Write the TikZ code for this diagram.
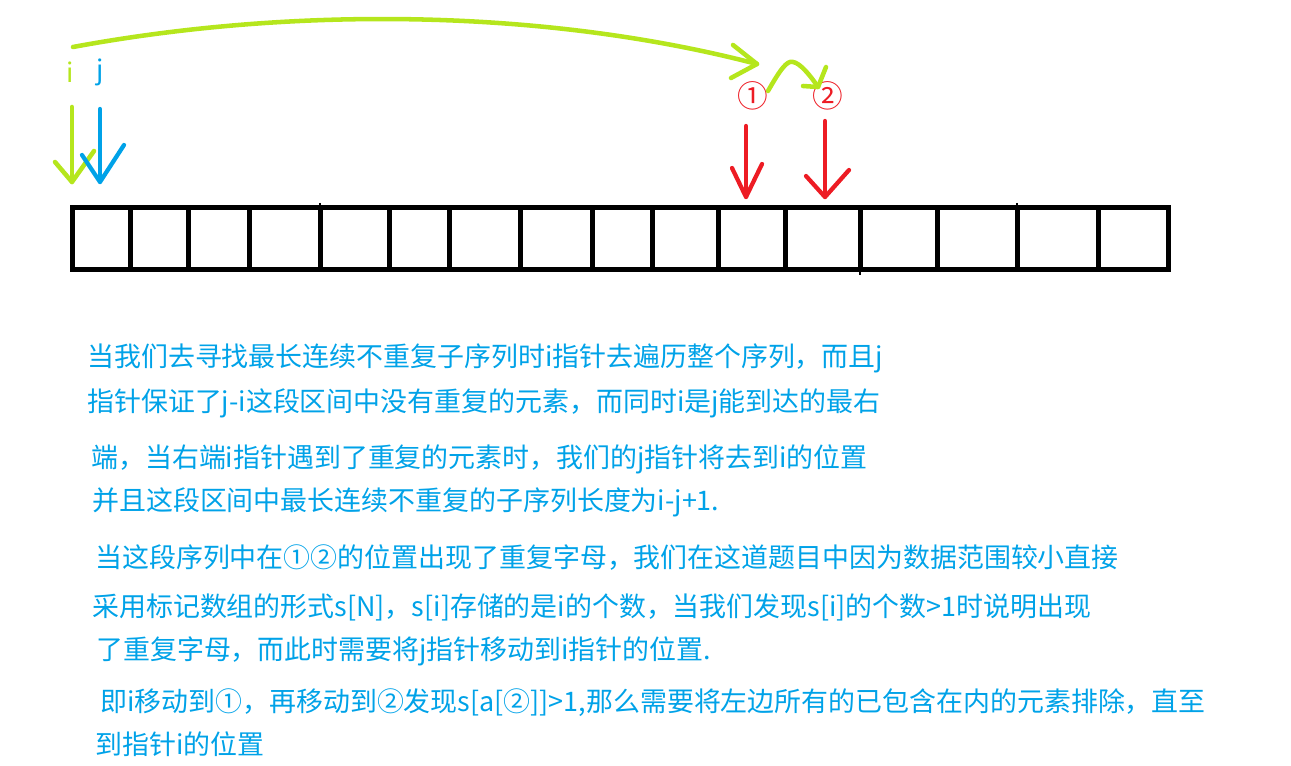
\documentclass[tikz,border=0pt]{standalone}
\usepackage{fontspec}
\setmainfont{Noto Sans CJK SC}
\definecolor{pblue}{RGB}{0,162,232}
\definecolor{pgreen}{RGB}{181,230,29}
\definecolor{pred}{RGB}{237,28,36}
\begin{document}
\begin{tikzpicture}[x=0.75pt,y=-0.75pt,line cap=round,line join=round,
  txt/.style={anchor=base west,inner sep=0pt,text=pblue,font=\fontsize{20.2pt}{24pt}\selectfont},
  lbl/.style={inner sep=0pt,font=\fontsize{20pt}{24pt}\selectfont},
  circ/.style={inner sep=0pt,text=pred,font=\fontsize{23pt}{26pt}\selectfont},
  cellline/.style={line width=3.75pt,draw=black,line cap=butt},
  garrow/.style={line width=3.4pt,draw=pgreen},
  barrow/.style={line width=3.2pt,draw=pblue},
  rarrow/.style={line width=3.2pt,draw=pred}]
\useasboundingbox (0,0) rectangle (1291,766);

% array
\draw[cellline,line join=miter] (72,208) rectangle (1168,270);
\foreach \x in {130,188,249,320,389,449,520,592,652,718,785,860,937,1017,1098}
  \draw[cellline] (\x,208) -- (\x,270);
\draw[cellline,line width=1.5pt] (320,203) -- (320,210);
\draw[cellline,line width=1.5pt] (860,268) -- (860,275);
\draw[cellline,line width=1.5pt] (1017,203) -- (1017,210);

% labels i, j
\node[lbl,text=pgreen] (li) at (70,72) {i};
\node[lbl,text=pblue] (lj) at (100,72) {j};

% i arrow (green)
\coordinate (iTop) at (72,107);
\coordinate (iTip) at (72,182);
\draw[garrow] (iTop) -- (iTip);
\draw[garrow] (55,162) -- (iTip) -- (94,151);

% j arrow (blue)
\coordinate (jTop) at (100,109);
\coordinate (jTip) at (100,182);
\draw[barrow] (jTop) -- (jTip);
\draw[barrow] (82,155) -- (jTip) -- (124,145);

% big green curve
\coordinate (cStart) at (73,47);
\coordinate (cTip) at (757,64);
\draw[garrow] (cStart) .. controls (300,5) and (550,10) .. (cTip);
\draw[garrow] (733,45) -- (cTip) -- (731,78);

% circled numbers
\node[circ] (c1) at (753,96) {①};
\node[circ] (c2) at (828,96) {②};

% small green curve
\coordinate (sStart) at (768,91);
\coordinate (sTip) at (818,87);
\draw[garrow] (sStart) .. controls (780,70) and (787,60) .. (793,62) .. controls (800,63) and (810,75) .. (sTip);
\draw[garrow] (803,86) -- (sTip) -- (826,67);

% red arrows
\coordinate (r1Top) at (746,126);
\coordinate (r1Tip) at (746,197);
\draw[rarrow] (r1Top) -- (r1Tip);
\draw[rarrow] (732,168) -- (r1Tip) -- (762,164);
\coordinate (r2Top) at (825,121);
\coordinate (r2Tip) at (825,197);
\draw[rarrow] (r2Top) -- (r2Tip);
\draw[rarrow] (806,176) -- (r2Tip) -- (849,170);

% text
\node[txt] (t1) at (87,366) {当我们去寻找最长连续不重复子序列时i指针去遍历整个序列，而且j};
\node[txt] (t2) at (87,411) {指针保证了j-i这段区间中没有重复的元素，而同时i是j能到达的最右};
\node[txt] (t3) at (91,467) {端，当右端i指针遇到了重复的元素时，我们的j指针将去到i的位置};
\node[txt] (t4) at (92,510) {并且这段区间中最长连续不重复的子序列长度为i-j+1.};
\node[txt] (t5) at (95,567) {当这段序列中在①②的位置出现了重复字母，我们在这道题目中因为数据范围较小直接};
\node[txt] (t6) at (92,616) {采用标记数组的形式s[N]，s[i]存储的是i的个数，当我们发现s[i]的个数>1时说明出现};
\node[txt] (t7) at (96,659) {了重复字母，而此时需要将j指针移动到i指针的位置.};
\node[txt] (t8) at (100,711) {即i移动到①，再移动到②发现s[a[②]]>1,那么需要将左边所有的已包含在内的元素排除，直至};
\node[txt] (t9) at (95,754) {到指针i的位置};
\end{tikzpicture}
\end{document}
